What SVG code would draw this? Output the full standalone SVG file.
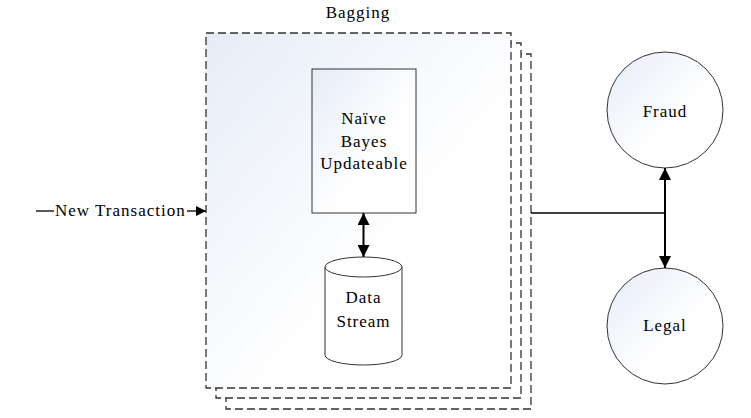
<svg xmlns="http://www.w3.org/2000/svg" width="751" height="418" viewBox="0 0 751 418">
<defs>
<linearGradient id="g" x1="0" y1="0" x2="1" y2="1">
<stop offset="0" stop-color="#e6ecf7"/>
<stop offset="0.6" stop-color="#ffffff"/>
</linearGradient>
<marker id="ah" viewBox="0 0 10 10" refX="10" refY="5" markerWidth="10" markerHeight="10" markerUnits="userSpaceOnUse" orient="auto-start-reverse">
<path d="M0,0 L10,5 L0,10 Z" fill="#000"/>
</marker>
<marker id="ah2" viewBox="0 0 10 10" refX="10" refY="5" markerWidth="12" markerHeight="12" markerUnits="userSpaceOnUse" orient="auto-start-reverse">
<path d="M0,0 L10,5 L0,10 Z" fill="#000"/>
</marker>
</defs>
<style>
.dash{fill:#fff;stroke:#333;stroke-width:1.3;stroke-dasharray:8,4}
text{font-family:'Liberation Serif','DejaVu Serif',serif;font-size:17px;letter-spacing:1px;fill:#000;text-anchor:middle}
.n{stroke:#333;stroke-width:1;fill:url(#g)}
</style>
<rect width="751" height="418" fill="#fff"/>
<g id="bagging">
<rect class="dash" x="226" y="54" width="305" height="355"/>
<rect class="dash" x="216" y="43" width="305" height="355"/>
<rect class="dash" x="206" y="33" width="305" height="355" style="fill:url(#g)"/>
<text x="358" y="18">Bagging</text>
</g>
<g id="nb">
<rect class="n" x="312" y="69" width="104" height="144"/>
<text x="364" y="124">Naïve</text>
<text x="364" y="147">Bayes</text>
<text x="364" y="169">Updateable</text>
</g>
<g id="ds">
<path d="M325,267 L325,355 A38.5,10 0 0 0 402,355 L402,267" fill="#fff" stroke="#333"/>
<ellipse cx="363.5" cy="267" rx="38.5" ry="10" fill="#fff" stroke="#333"/>
<text x="363.5" y="303">Data</text>
<text x="363.5" y="327">Stream</text>
</g>
<g id="fraud">
<circle class="n" cx="665" cy="110" r="58"/>
<text x="665" y="117">Fraud</text>
</g>
<g id="legal">
<circle class="n" cx="665" cy="326" r="58"/>
<text x="665" y="331">Legal</text>
</g>
<g id="input">
<text x="55" y="216" style="text-anchor:start">New Transaction</text>
</g>
<g id="connectors" fill="none" stroke="#000">
<line x1="36" y1="211" x2="54" y2="211" stroke-width="1.3"/>
<line x1="187" y1="211" x2="206" y2="211" stroke-width="1.3" marker-end="url(#ah)"/>
<line x1="363.5" y1="213" x2="363.5" y2="257" stroke-width="2" marker-start="url(#ah2)" marker-end="url(#ah2)"/>
<line x1="531" y1="213" x2="665" y2="213" stroke-width="1.5"/>
<line x1="665" y1="168" x2="665" y2="268" stroke-width="2" marker-start="url(#ah2)" marker-end="url(#ah2)"/>
</g>
</svg>
